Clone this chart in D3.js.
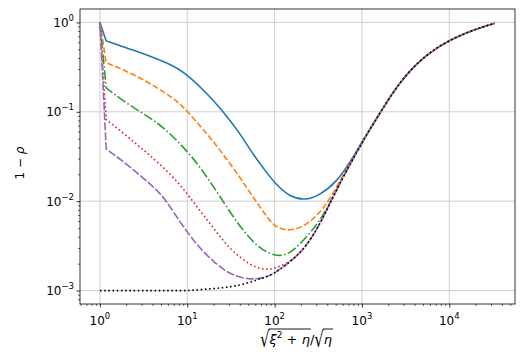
<!DOCTYPE html>
<html>
<head>
<meta charset="utf-8">
<script src="https://cdn.jsdelivr.net/npm/d3@7"></script>
<style>
  body { margin: 0; background: #fff; }
  text { font-family: "DejaVu Sans", sans-serif; fill: #000; }
</style>
</head>
<body>
<div id="chart"></div>
<script>
// reference curve (black dotted), the coloured curves join it on the right
var refX = [1, 10, 20, 32, 48, 63, 74, 100, 150, 215, 320, 430, 630, 910, 1000, 1260, 1620, 2500, 4000, 6300, 10000, 17800, 33000];
var refY = [0.001, 0.001, 0.00105, 0.0011, 0.0012, 0.00132, 0.00138, 0.00155, 0.0021, 0.00285, 0.0052, 0.0095, 0.020, 0.038, 0.045, 0.066, 0.098, 0.193, 0.33, 0.48, 0.63, 0.81, 0.977];

var blueX = [1, 1.18, 1.78, 2.9, 4.5, 6.3, 8.2, 10, 16, 26, 40, 52, 74, 105, 150, 220, 320, 510, 740, 910, 1000];
var blueY = [1, 0.62, 0.54, 0.46, 0.39, 0.34, 0.295, 0.257, 0.17, 0.1, 0.0575, 0.038, 0.0234, 0.0151, 0.0112, 0.0102, 0.0115, 0.0162, 0.028, 0.039, 0.046];

var orangeX = [1, 1.18, 1.78, 2.9, 4.5, 6.3, 8.2, 10, 16, 23, 40, 57, 88, 105, 150, 230, 320, 430, 630];
var orangeY = [1, 0.355, 0.30, 0.24, 0.186, 0.151, 0.123, 0.102, 0.060, 0.039, 0.0186, 0.011, 0.006, 0.0051, 0.00457, 0.0054, 0.0072, 0.0105, 0.021];

var greenX = [1, 1.18, 1.85, 2.9, 4.5, 6.3, 10, 14, 20, 37, 62, 100, 150, 254, 320];
var greenY = [1, 0.185, 0.132, 0.1, 0.076, 0.0575, 0.0363, 0.024, 0.0146, 0.0057, 0.0031, 0.0024, 0.0025, 0.0044, 0.0058];

var redX = [1, 1.18, 1.85, 2.9, 4.5, 8.2, 12.8, 20, 31, 52, 74, 100, 150];
var redY = [1, 0.082, 0.058, 0.040, 0.0279, 0.0158, 0.0087, 0.005, 0.00285, 0.00194, 0.0017, 0.00176, 0.00208];

var purpleX = [1, 1.18, 1.85, 2.9, 4.5, 5.8, 8.2, 12.8, 20, 31, 52, 74];
var purpleY = [1, 0.0384, 0.0279, 0.0193, 0.0134, 0.01, 0.0059, 0.00324, 0.00209, 0.0015, 0.00132, 0.00138];

var xMajor = [1, 10, 100, 1000, 10000];
var xExp = ["0", "1", "2", "3", "4"];
var yMajor = [1, 0.1, 0.01, 0.001];
var yExp = ["0", "\u22121", "\u22122", "\u22123"];

var W = 527, H = 359;
var L = 80, R = 515, T = 9, B = 304;

var svg = d3.select("#chart").append("svg")
  .attr("width", W)
  .attr("height", H);

var x = d3.scaleLog().domain([Math.pow(10, -0.228), Math.pow(10, 4.752)]).range([L, R]);
var y = d3.scaleLog().domain([Math.pow(10, -3.15), Math.pow(10, 0.15)]).range([B, T]);

function minors(scale) {
  var dom = scale.domain(), out = [];
  for (var e = -4; e <= 5; e++) {
    for (var k = 2; k <= 9; k++) {
      var v = k * Math.pow(10, e);
      if (v >= dom[0] && v <= dom[1]) out.push(v);
    }
  }
  return out;
}

// grid
svg.append("g").selectAll("line").data(xMajor).enter().append("line")
  .attr("x1", d => x(d)).attr("x2", d => x(d))
  .attr("y1", T).attr("y2", B)
  .attr("stroke", "#cfcfcf").attr("stroke-width", 1);
svg.append("g").selectAll("line").data(yMajor).enter().append("line")
  .attr("y1", d => y(d)).attr("y2", d => y(d))
  .attr("x1", L).attr("x2", R)
  .attr("stroke", "#cfcfcf").attr("stroke-width", 1);

// curves
function withTail(hx, hy) {
  var pts = hx.map((v, i) => [v, hy[i]]);
  var last = hx[hx.length - 1];
  refX.forEach((v, i) => { if (v > last) pts.push([v, refY[i]]); });
  return pts;
}

var line = d3.line()
  .x(d => x(d[0]))
  .y(d => y(d[1]))
  .curve(d3.curveBasis);

// first step (x=1 to the kink) is straight, the rest smooth
function pathFor(pts) {
  var p0 = pts[0];
  return "M" + x(p0[0]) + "," + y(p0[1]) + line(pts.slice(1)).replace(/^M/, "L");
}

var series = [
  { pts: withTail(blueX, blueY), color: "#1f77b4", dash: null },
  { pts: withTail(orangeX, orangeY), color: "#ff7f0e", dash: "6,2.4" },
  { pts: withTail(greenX, greenY), color: "#2ca02c", dash: "9.6,2.4,1.6,2.4" },
  { pts: withTail(redX, redY), color: "#d62728", dash: "1.6,2.6" },
  { pts: withTail(purpleX, purpleY), color: "#9467bd", dash: "8,2" },
  { pts: refX.map((v, i) => [v, refY[i]]), color: "#000", dash: "1.6,2.6" }
];

svg.append("g").selectAll("path").data(series).enter().append("path")
  .attr("d", d => pathFor(d.pts))
  .attr("fill", "none")
  .attr("stroke", d => d.color)
  .attr("stroke-width", 1.6)
  .attr("stroke-dasharray", d => d.dash);

// ticks
function tickGroup(axis, tr) {
  var g = svg.append("g").attr("transform", tr).call(axis);
  g.select(".domain").remove();
  return g;
}
tickGroup(d3.axisBottom(x).tickValues(xMajor).tickSize(3.5).tickFormat(""), "translate(0," + B + ")")
  .selectAll("line").attr("stroke-width", 0.8);
tickGroup(d3.axisBottom(x).tickValues(minors(x)).tickSize(2).tickFormat(""), "translate(0," + B + ")")
  .selectAll("line").attr("stroke-width", 0.6);
tickGroup(d3.axisLeft(y).tickValues(yMajor).tickSize(3.5).tickFormat(""), "translate(" + L + ",0)")
  .selectAll("line").attr("stroke-width", 0.8);
tickGroup(d3.axisLeft(y).tickValues(minors(y)).tickSize(2).tickFormat(""), "translate(" + L + ",0)")
  .selectAll("line").attr("stroke-width", 0.6);

// frame
svg.append("rect")
  .attr("x", L).attr("y", T)
  .attr("width", R - L).attr("height", B - T)
  .attr("fill", "none").attr("stroke", "#000").attr("stroke-width", 0.8);

// tick labels
var xl = svg.append("g").selectAll("text").data(xMajor).enter().append("text")
  .attr("x", d => x(d)).attr("y", 325)
  .attr("text-anchor", "middle")
  .style("font-size", "12px");
xl.append("tspan").text("10");
xl.append("tspan").attr("dy", -6).style("font-size", "8.5px").text((d, i) => xExp[i]);

var yl = svg.append("g").selectAll("text").data(yMajor).enter().append("text")
  .attr("x", 74).attr("y", d => y(d) + 4.5)
  .attr("text-anchor", "end")
  .style("font-size", "12px");
yl.append("tspan").text("10");
yl.append("tspan").attr("dy", -6).style("font-size", "8.5px").text((d, i) => yExp[i]);

// y label
var ylab = svg.append("text")
  .attr("transform", "translate(24,163) rotate(-90)")
  .attr("text-anchor", "middle")
  .style("font-size", "12px");
ylab.append("tspan").text("1 \u2212 ");
ylab.append("tspan").style("font-style", "italic").text("\u03c1");

// x label: sqrt(xi^2 + eta) / sqrt(eta)
var lab = svg.append("g");
var cx = 0, base = 344;
function piece(str, size, italic, dy, sy) {
  var t = lab.append("text")
    .attr("transform", "translate(" + cx + "," + (base + (dy || 0)) + ") scale(1," + (sy || 1) + ")")
    .attr("xml:space", "preserve")
    .style("white-space", "pre")
    .style("font-size", size + "px")
    .style("font-style", italic ? "italic" : "normal")
    .text(str);
  var w = t.node().getComputedTextLength();
  var x0 = cx;
  cx += w;
  return { x0: x0, x1: cx };
}
var r1 = piece("\u221a", 15, false, 3, 1.45);
var a = piece("\u03be", 13, true);
piece("2", 9, false, -6);
piece(" + ", 13, false);
var b = piece("\u03b7", 13, true);
piece("/", 13, false);
var r2 = piece("\u221a", 15, false, 3, 1.45);
var c = piece("\u03b7", 13, true);
var barY = 329;
lab.append("line").attr("x1", r1.x1 - 0.8).attr("x2", b.x1 + 1).attr("y1", barY).attr("y2", barY)
  .attr("stroke", "#000").attr("stroke-width", 0.9);
lab.append("line").attr("x1", r2.x1 - 0.8).attr("x2", c.x1 + 1).attr("y1", barY).attr("y2", barY)
  .attr("stroke", "#000").attr("stroke-width", 0.9);
lab.attr("transform", "translate(" + (296 - cx / 2) + ",0)");
</script>
</body>
</html>
